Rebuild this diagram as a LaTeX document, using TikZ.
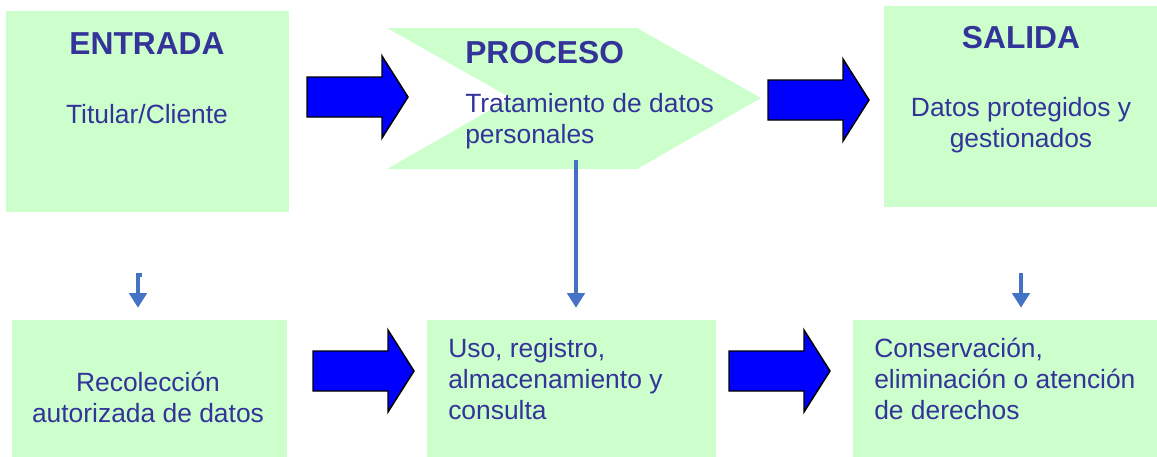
\documentclass[tikz,border=0pt]{standalone}
\usepackage{fontspec}
\setmainfont{Liberation Sans}
\usetikzlibrary{arrows.meta}
\definecolor{verdeclaro}{HTML}{CCFFCC}
\definecolor{azultexto}{HTML}{333399}
\definecolor{azulflecha}{HTML}{0000FF}
\definecolor{azullinea}{HTML}{4472C4}
\begin{document}
\begin{tikzpicture}[x=0.75pt, y=-0.75pt,
    caja/.style={fill=verdeclaro, inner sep=0pt},
    titulo/.style={text=azultexto, font=\fontsize{23.8}{28}\selectfont\bfseries, inner sep=0pt, anchor=base},
    texto/.style={text=azultexto, font=\fontsize{19.8}{22.9}\selectfont, inner sep=0pt},
    bloque/.style={fill=azulflecha, draw=black, line width=1.1pt, line join=miter},
    flecha/.style={draw=azullinea, line width=3pt, -{Triangle[width=13pt, length=11pt]}}]
    \useasboundingbox (0, 0) rectangle (1157, 457);

    \node[caja, minimum width=212.25pt, minimum height=150.75pt] (entrada) at (147.5, 111.5) {};
    \fill[verdeclaro] (387, 28) -- (637, 28) -- (761, 98) -- (637, 169) -- (387, 169) -- (511, 98) -- cycle;
    \node[caja, minimum width=204.75pt, minimum height=150.75pt] (salida) at (1020.5, 106.5) {};
    \node[caja, minimum width=206.25pt, minimum height=102.75pt] (recoleccion) at (149.5, 388.5) {};
    \node[caja, minimum width=216.75pt, minimum height=102.75pt] (uso) at (571.5, 388.5) {};
    \node[caja, minimum width=228pt, minimum height=102.75pt] (conservacion) at (1005, 388.5) {};

    \node[titulo] (t-entrada) at (147, 54) {ENTRADA};
    \node[texto, anchor=base] (d-entrada) at (147, 123) {Titular/Cliente};
    \node[titulo, anchor=base west] (t-proceso) at (465, 63) {PROCESO};
    \node[texto, anchor=base west, align=left] (d-proceso) at (465, 143) {Tratamiento de datos\\personales};
    \node[titulo] (t-salida) at (1021, 48) {SALIDA};
    \node[texto, anchor=base, align=center] (d-salida) at (1021, 147) {Datos protegidos y\\gestionados};
    \node[texto, anchor=base, align=center] (d-recoleccion) at (148, 422) {Recolección\\autorizada de datos};
    \node[texto, anchor=base west, align=left] (d-uso) at (448, 419) {Uso, registro,\\almacenamiento y\\consulta};
    \node[texto, anchor=base west, align=left] (d-conservacion) at (874, 419) {Conservación,\\eliminación o atención\\de derechos};

    \foreach \x/\y in {307/97, 768/100, 313/371, 729/371}
      \draw[bloque, shift={(\x, \y)}] (0, -20) -- (75, -20) -- (75, -41) -- (101, 0) -- (75, 41) -- (75, 20) -- (0, 20) -- cycle;

    \coordinate (e-sal) at (138, 275);
    \coordinate (p-sal) at (576, 160);
    \coordinate (s-sal) at (1021, 273);
    \draw[flecha, shorten >=9pt] (142, 275) -- (e-sal) -- (recoleccion.north -| e-sal);
    \draw[flecha, shorten >=9pt] (p-sal) -- (uso.north -| p-sal);
    \draw[flecha, shorten >=9pt] (s-sal) -- (conservacion.north -| s-sal);
\end{tikzpicture}
\end{document}
